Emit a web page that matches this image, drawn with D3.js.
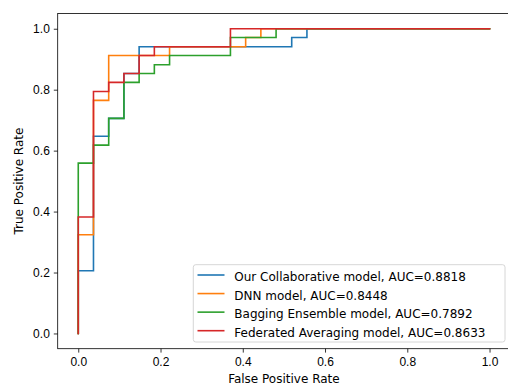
<!DOCTYPE html>
<html>
<head>
<meta charset="utf-8">
<script src="https://cdn.jsdelivr.net/npm/d3@7"></script>
<style>
  body { margin: 0; background: #fff; }
  svg { display: block; font-family: "DejaVu Sans", sans-serif; }
  .tick text { font-size: 12px; fill: #000; }
  .tick line { stroke: #000; stroke-width: 0.8; }
  .axis-label { font-size: 12px; fill: #000; }
  .legend text { font-size: 12px; fill: #000; }
</style>
</head>
<body>
<svg id="vis" width="508" height="385"></svg>
<script>
// ROC curves (step corners)
var collabFpr = [0, 0, 0.037, 0.037, 0.074, 0.074, 0.111, 0.111, 0.148, 0.148, 0.519, 0.519, 0.556, 0.556, 1.0];
var collabTpr = [0, 0.206, 0.206, 0.647, 0.647, 0.706, 0.706, 0.853, 0.853, 0.941, 0.941, 0.971, 0.971, 1.0, 1.0];

var dnnFpr = [0, 0, 0.037, 0.037, 0.074, 0.074, 0.222, 0.222, 0.407, 0.407, 0.444, 0.444, 1.0];
var dnnTpr = [0, 0.324, 0.324, 0.765, 0.765, 0.912, 0.912, 0.941, 0.941, 0.971, 0.971, 1.0, 1.0];

var baggingFpr = [0, 0, 0.037, 0.037, 0.074, 0.074, 0.111, 0.111, 0.148, 0.148, 0.185, 0.185, 0.222, 0.222, 0.370, 0.370, 0.481, 0.481, 1.0];
var baggingTpr = [0, 0.559, 0.559, 0.618, 0.618, 0.706, 0.706, 0.824, 0.824, 0.853, 0.853, 0.882, 0.882, 0.912, 0.912, 0.971, 0.971, 1.0, 1.0];

var fedavgFpr = [0, 0, 0.037, 0.037, 0.074, 0.074, 0.111, 0.111, 0.148, 0.148, 0.185, 0.185, 0.370, 0.370, 1.0];
var fedavgTpr = [0, 0.382, 0.382, 0.794, 0.794, 0.824, 0.824, 0.853, 0.853, 0.912, 0.912, 0.941, 0.941, 1.0, 1.0];

var seriesNames = ["Our Collaborative model, AUC=0.8818",
                   "DNN model, AUC=0.8448",
                   "Bagging Ensemble model, AUC=0.7892",
                   "Federated Averaging model, AUC=0.8633"];
var seriesColors = ["#1f77b4", "#ff7f0e", "#2ca02c", "#d62728"];
var tickValues = [0, 0.2, 0.4, 0.6, 0.8, 1.0];

var curves = [
  d3.zip(collabFpr, collabTpr),
  d3.zip(dnnFpr, dnnTpr),
  d3.zip(baggingFpr, baggingTpr),
  d3.zip(fedavgFpr, fedavgTpr)
];

var plotLeft = 57.7, plotRight = 510.1, plotTop = 13.5, plotBottom = 348.7;

var x = d3.scaleLinear().domain([-0.05, 1.05]).range([plotLeft, plotRight]);
var y = d3.scaleLinear().domain([-0.05, 1.05]).range([plotBottom, plotTop]);

var svg = d3.select("#vis");

// curves
var line = d3.line().x(d => x(d[0])).y(d => y(d[1]));
svg.selectAll("path.roc")
   .data(curves)
   .enter()
   .append("path")
   .attr("class", "roc")
   .attr("d", line)
   .attr("fill", "none")
   .attr("stroke", (d, i) => seriesColors[i])
   .attr("stroke-width", 1.6)
   .attr("stroke-linejoin", "miter")
   .attr("stroke-linecap", "square");

// axes
var xAxis = svg.append("g")
   .attr("transform", "translate(0," + plotBottom + ")")
   .call(d3.axisBottom(x).tickValues(tickValues).tickFormat(d3.format(".1f"))
           .tickSize(3.9).tickPadding(4.5));
xAxis.select(".domain").remove();

var yAxis = svg.append("g")
   .attr("transform", "translate(" + plotLeft + ",0)")
   .call(d3.axisLeft(y).tickValues(tickValues).tickFormat(d3.format(".1f"))
           .tickSize(3.9).tickPadding(4));
yAxis.select(".domain").remove();
svg.selectAll(".tick text").attr("font-family", null).attr("font-size", null);

// frame
svg.append("rect")
   .attr("x", plotLeft)
   .attr("y", plotTop)
   .attr("width", plotRight - plotLeft)
   .attr("height", plotBottom - plotTop)
   .attr("fill", "none")
   .attr("stroke", "#000")
   .attr("stroke-width", 0.8);

// labels
svg.append("text")
   .attr("class", "axis-label")
   .attr("x", (plotLeft + plotRight) / 2)
   .attr("y", 382.5)
   .attr("text-anchor", "middle")
   .text("False Positive Rate");

svg.append("text")
   .attr("class", "axis-label")
   .attr("transform", "translate(23," + ((plotTop + plotBottom) / 2) + ") rotate(-90)")
   .attr("text-anchor", "middle")
   .text("True Positive Rate");

// legend
var legend = svg.append("g").attr("class", "legend");
legend.append("rect")
      .attr("x", 193.3)
      .attr("y", 264.7)
      .attr("width", 505 - 193.3)
      .attr("height", 342 - 264.7)
      .attr("rx", 2.5)
      .attr("fill", "#fff")
      .attr("fill-opacity", 0.8)
      .attr("stroke", "#cccccc")
      .attr("stroke-width", 0.8);

var rowY = d3.scaleLinear().domain([0, 3]).range([275, 330.7]);
var rows = legend.selectAll("g.row")
      .data(seriesNames)
      .enter()
      .append("g")
      .attr("class", "row")
      .attr("transform", (d, i) => "translate(0," + rowY(i) + ")");
rows.append("line")
    .attr("x1", 197.5)
    .attr("x2", 224.5)
    .attr("stroke", (d, i) => seriesColors[i])
    .attr("stroke-width", 1.6);
rows.append("text")
    .attr("x", 234.3)
    .attr("dy", "0.5em")
    .text(d => d);
</script>
</body>
</html>
